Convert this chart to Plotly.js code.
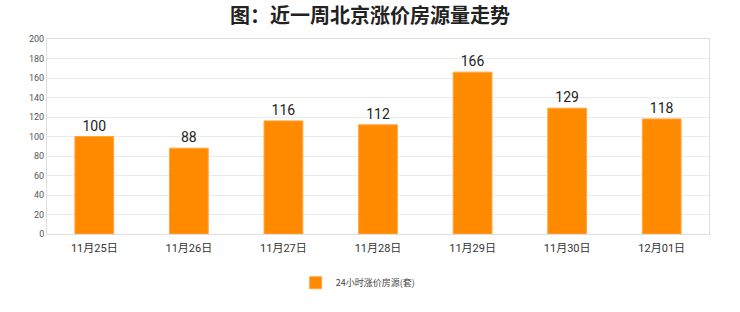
<!DOCTYPE html>
<html><head><meta charset="utf-8">
<script src="https://cdn.plot.ly/plotly-3.0.1.min.js"></script>
<style>html,body{margin:0;padding:0;background:#fff}#c{width:740px;height:312px}</style>
</head><body><div id="c"></div>
<script>
const categories = ["11月25日","11月26日","11月27日","11月28日","11月29日","11月30日","12月01日"];
const values = [100, 88, 116, 112, 166, 129, 118];
const seriesName = "24小时涨价房源(套)";
const yTicks = [0,20,40,60,80,100,120,140,160,180,200];

Plotly.newPlot('c', [{
  type: 'bar', x: categories, y: values, name: seriesName,
  marker: {color: '#FF8A00', line: {color: '#FFA640', width: 1}},
  text: values.map(String), textposition: 'outside', cliponaxis: false,
  textfont: {family: 'Roboto, "Noto Sans CJK SC", sans-serif', size: 14, color: '#222'}
}], {
  width: 740, height: 312,
  margin: {l: 47, r: 31, t: 39, b: 78},
  paper_bgcolor: '#fff', plot_bgcolor: '#fff',
  title: {text: '<b>图：近一周北京涨价房源量走势</b>', x: 0.5, xanchor: 'center', y: 0.95, yanchor: 'middle',
    font: {family: '"Noto Sans CJK SC", sans-serif', size: 20, color: '#222'}},
  bargap: 0.59,
  showlegend: true,
  legend: {orientation: 'h', x: 0.47, xanchor: 'center', y: -0.25, yanchor: 'middle', itemwidth: 30,
    font: {family: '"Noto Sans CJK SC", sans-serif', size: 9, color: '#444'}},
  xaxis: {type: 'category', showgrid: false, showline: true, linecolor: '#ddd', mirror: true,
    ticks: '', ticklabelstandoff: 4, tickfont: {family: 'Roboto, "Noto Sans CJK SC", sans-serif', size: 11, color: '#333'}},
  yaxis: {range: [0, 200], tickvals: yTicks, showgrid: true, gridcolor: '#ebebeb', showline: true, linecolor: '#ddd', mirror: true,
    zeroline: false, ticks: '', ticklen: 0, tickfont: {family: 'Roboto, sans-serif', size: 9, color: '#555'}}
}, {displayModeBar: false, staticPlot: true});
</script></body></html>
